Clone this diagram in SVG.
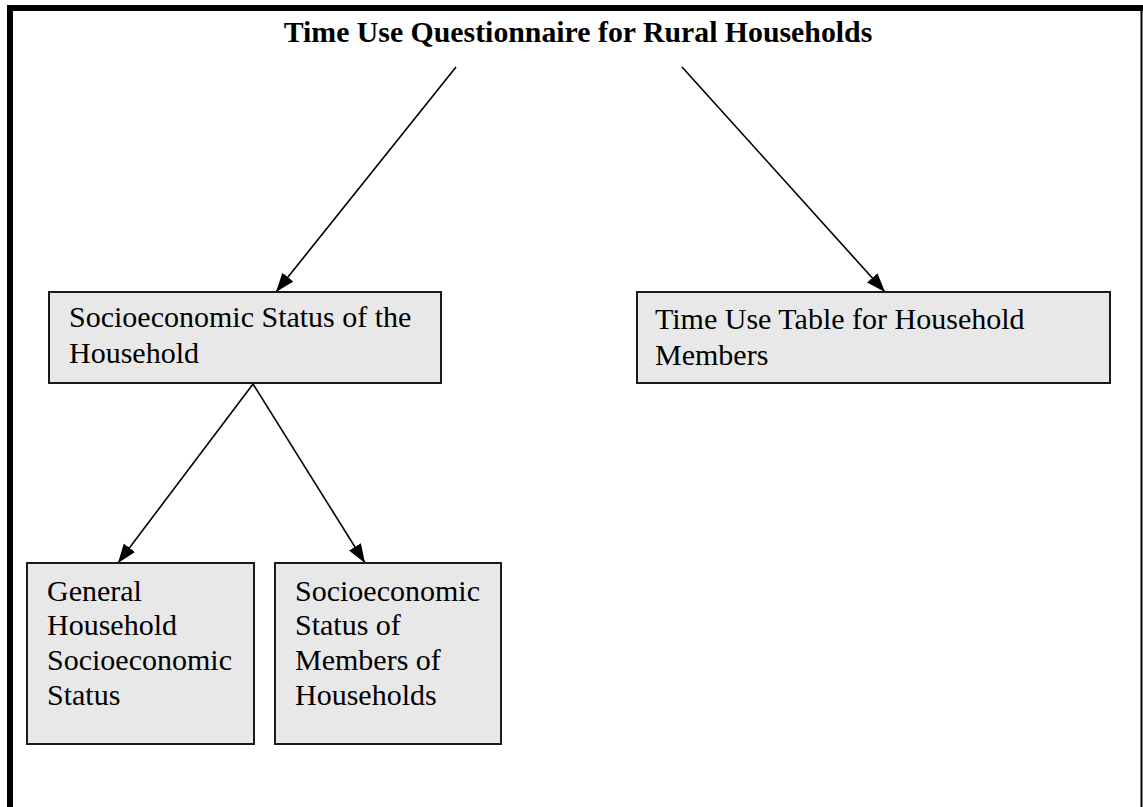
<svg xmlns="http://www.w3.org/2000/svg" width="1143" height="807" viewBox="0 0 1143 807">
<style>
.box{fill:#e8e8e8;stroke:#1a1a1a;stroke-width:2}
.t{font-family:"Liberation Serif","Times New Roman",serif;font-size:30px;fill:#000}
.title{font-family:"Liberation Serif","Times New Roman",serif;font-size:29.8px;font-weight:bold;fill:#000}
.c{stroke:#000;stroke-width:1.6;fill:none;marker-end:url(#ah)}
</style>
<defs>
<marker id="ah" markerUnits="userSpaceOnUse" markerWidth="20" markerHeight="16" viewBox="0 0 20 16" refX="19" refY="8" orient="auto">
<path d="M0,1 L19,8 L0,15 Z" fill="#000"/>
</marker>
</defs>
<rect width="1143" height="807" fill="#fff"/>
<g id="frame">
<rect x="7" y="5" width="1136" height="6" fill="#000"/>
<rect x="7" y="5" width="6" height="802" fill="#000"/>
<rect x="1140.5" y="5" width="2" height="802" fill="#000"/>
</g>
<g id="title">
<text class="title" x="578" y="42" text-anchor="middle">Time Use Questionnaire for Rural Households</text>
</g>
<g id="connectors">
<line class="c" x1="456" y1="67" x2="276" y2="292"/>
<line class="c" x1="682" y1="67" x2="885" y2="292"/>
<line class="c" x1="253" y1="384" x2="118" y2="563"/>
<line class="c" x1="253" y1="384" x2="365" y2="563"/>
</g>
<g id="node-household">
<rect class="box" x="49" y="292" width="392" height="91"/>
<text class="t" x="69" y="327">Socioeconomic Status of the</text>
<text class="t" x="69" y="363">Household</text>
</g>
<g id="node-timeuse">
<rect class="box" x="637" y="292" width="473" height="91"/>
<text class="t" x="655" y="329">Time Use Table for Household</text>
<text class="t" x="655" y="365">Members</text>
</g>
<g id="node-general">
<rect class="box" x="27" y="563" width="227" height="181"/>
<text class="t" x="47" y="601">General</text>
<text class="t" x="47" y="635">Household</text>
<text class="t" x="47" y="670">Socioeconomic</text>
<text class="t" x="47" y="705">Status</text>
</g>
<g id="node-members">
<rect class="box" x="275" y="563" width="226" height="181"/>
<text class="t" x="295" y="601">Socioeconomic</text>
<text class="t" x="295" y="635">Status of</text>
<text class="t" x="295" y="670">Members of</text>
<text class="t" x="295" y="705">Households</text>
</g>
</svg>
